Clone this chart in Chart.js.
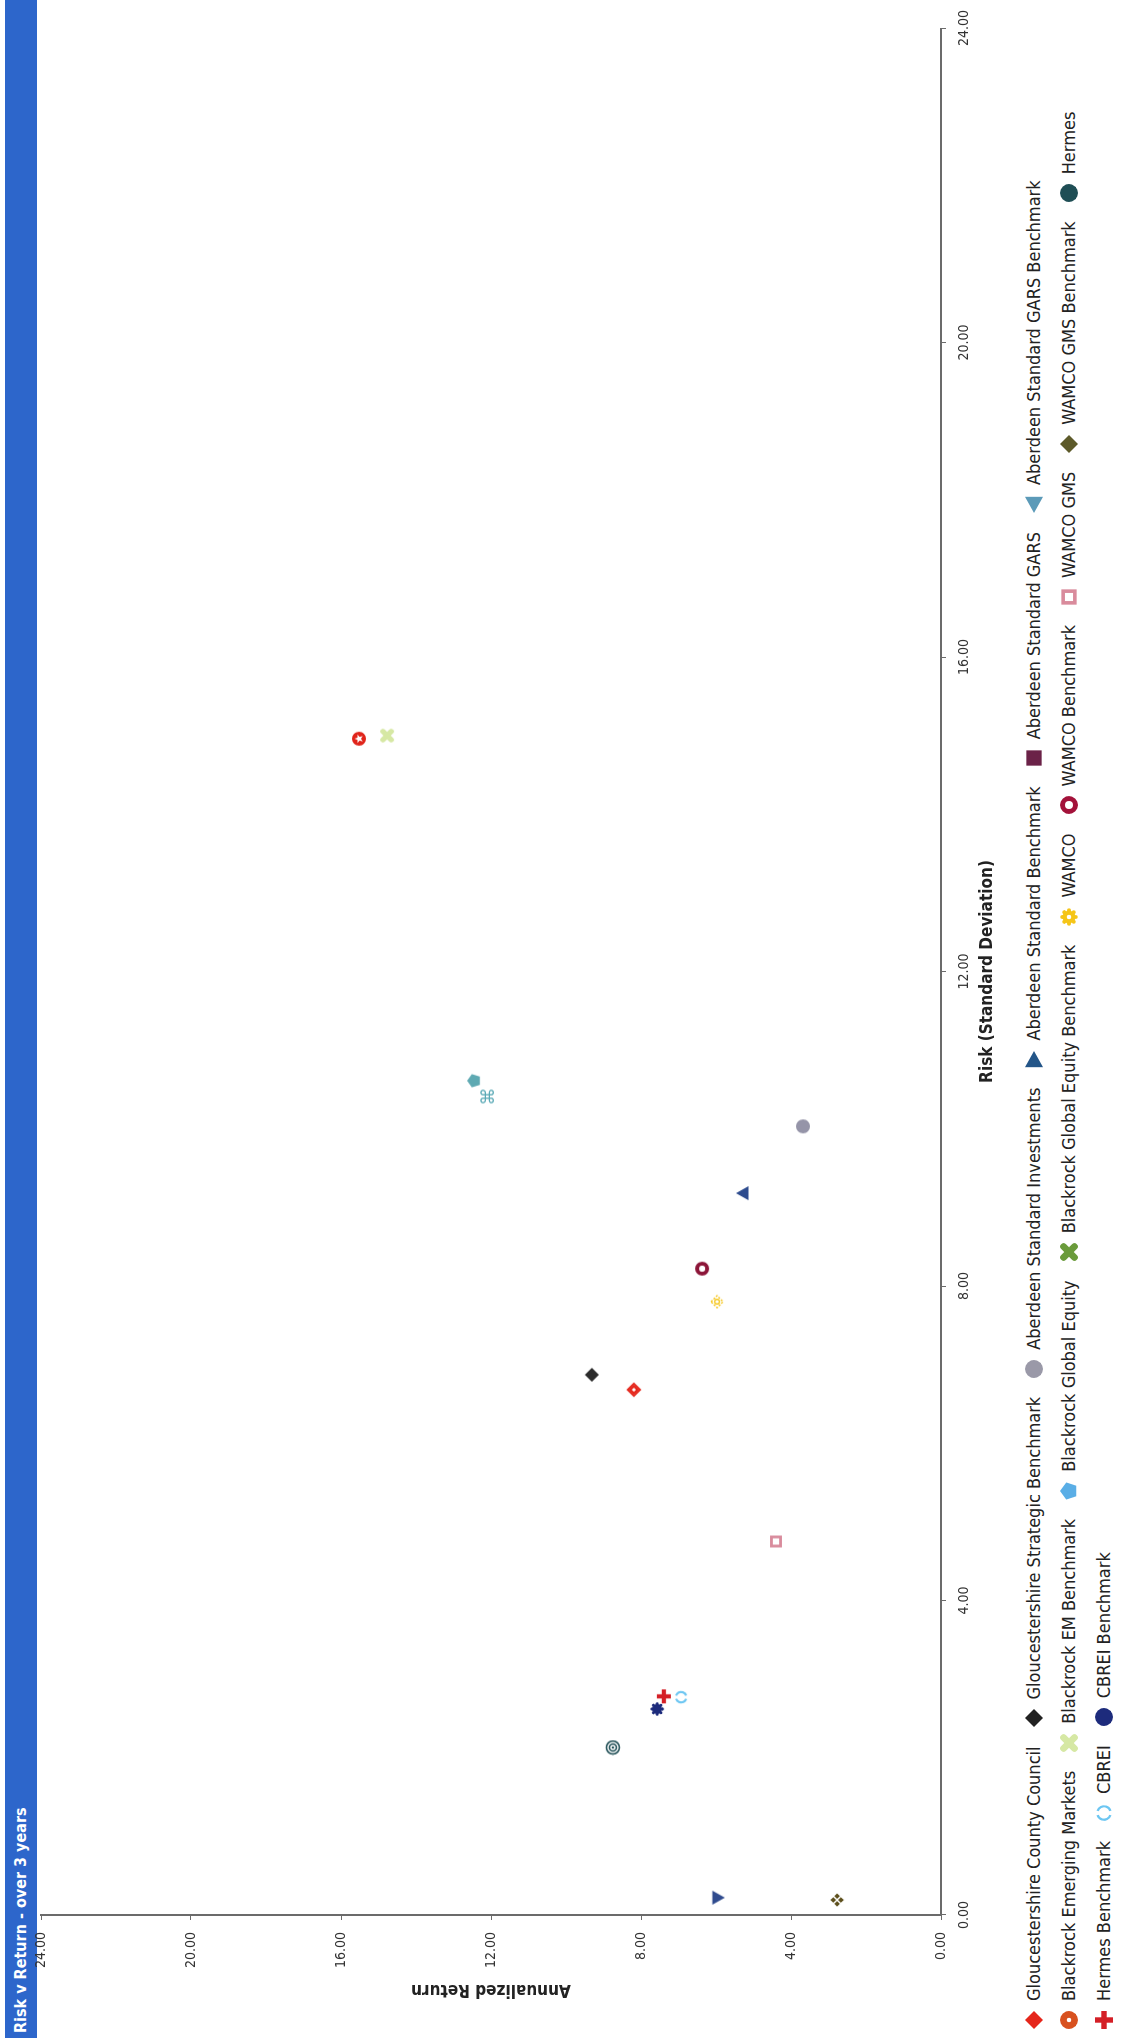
<!doctype html>
<html lang="en">
<head>
<meta charset="utf-8">
<title>Risk v Return - over 3 years</title>
<script src="https://cdn.jsdelivr.net/npm/chart.js"></script>
<style>
  body { margin: 0; width: 1123px; height: 2038px; overflow: hidden; background: #fff; position: relative; }
  /* the chart is laid out landscape and turned a quarter turn anticlockwise */
  #frame { position: absolute; left: 0; top: 0; width: 2038px; height: 1123px;
           transform-origin: 0 0; transform: translate(0, 2038px) rotate(-90deg); }
  #titlebar { position: absolute; left: 0; top: 5px; width: 2038px; height: 32px; background: #2d66cb;
              color: #fff; font: bold 16px "Liberation Sans Narrow", "DejaVu Sans Condensed", Arial, sans-serif;
              line-height: 32px; padding-left: 5px; box-sizing: border-box; }
  #chartbox { position: absolute; left: 0; top: 0; width: 2038px; height: 1000px; }
  #legend { position: absolute; left: 8px; top: 1016px; width: 2025px;
            font: 18px "Liberation Sans Narrow", "DejaVu Sans Condensed", Arial, sans-serif; color: #222; }
  .row { height: 35px; display: flex; align-items: center; white-space: nowrap; }
  .item { display: flex; align-items: center; margin-right: 18px; }
  .item img { width: 20px; height: 20px; margin-right: 9px; }
</style>
</head>
<body>
<div id="frame">
  <div id="titlebar">Risk v Return - over 3 years</div>
  <div id="chartbox"><canvas id="riskChart" width="2038" height="1000"></canvas></div>
  <div id="legend"></div>
</div>

<script>
// series names, in legend order
const names = [
  'Gloucestershire County Council', 'Gloucestershire Strategic Benchmark', 'Aberdeen Standard Investments',
  'Aberdeen Standard Benchmark', 'Aberdeen Standard GARS', 'Aberdeen Standard GARS Benchmark',
  'Blackrock Emerging Markets', 'Blackrock EM Benchmark', 'Blackrock Global Equity',
  'Blackrock Global Equity Benchmark', 'WAMCO', 'WAMCO Benchmark', 'WAMCO GMS', 'WAMCO GMS Benchmark',
  'Hermes', 'Hermes Benchmark', 'CBREI', 'CBREI Benchmark'
];
// risk (standard deviation) - x
const risk = [6.68, 6.87, 10.03, 9.18, null, 0.22, 14.96, 15.0, 10.61, 10.41, 7.80, 8.22, 4.75, 0.19, 2.13, 2.78, 2.77, 2.62];
// annualized return - y
const annReturn = [8.19, 9.31, 3.68, 5.28, null, 5.95, 15.52, 14.77, 12.45, 12.08, 5.97, 6.37, 4.40, 2.77, 8.75, 7.39, 6.93, 7.57];

const axisTicks = [0, 4, 8, 12, 16, 20, 24];

// marker looks
const pointColors = ['#e5261b', '#2b2b2b', '#9594a8', '#2d4b8e', '#6b2248', '#2f4b8e',
  '#e0241a', '#d6e8a4', '#5ea9b2', '#5aa9b6', '#f5c518', '#8c1538', '#d98b9c', '#5d4f1c',
  '#1f4e55', '#d41f26', '#6cc6f2', '#1d2b7c'];
const pointShapes = ['diamondRing', 'diamond', 'circle', 'triUp', 'square', 'triDown',
  'starCircle', 'xSoft', 'pentagon', 'cmd', 'diamondRingSoft', 'ring', 'squareRing', 'quad',
  'target', 'cross', 'cShape', 'gear'];
const legendColors = ['#e5261b', '#222222', '#9a99a8', '#235588', '#6b2248', '#5b9ab8',
  '#d8511f', '#d6e8a4', '#5aaee6', '#6a9b3b', '#f5c518', '#a3123a', '#d98b9c', '#5d5a2a',
  '#1f4e55', '#d41f26', '#6cc6f2', '#1d2b7c'];
const legendShapes = ['diamond', 'diamond', 'circle', 'triRight', 'square', 'triLeft',
  'dotCircle', 'xSoft', 'pentagon', 'clover', 'gearSoft', 'ring', 'squareRing', 'diamond',
  'circle', 'cross', 'cShape', 'circle'];

const legendRows = [6, 9, 3];

function poly(ctx, pts) {
  ctx.beginPath();
  pts.forEach((p, i) => i ? ctx.lineTo(p[0], p[1]) : ctx.moveTo(p[0], p[1]));
  ctx.closePath();
}

function makeMarker(shape, color, s) {
  const cv = document.createElement('canvas');
  cv.width = s; cv.height = s;
  const ctx = cv.getContext('2d');
  const c = s / 2, r = s / 2 - 1;
  ctx.fillStyle = color; ctx.strokeStyle = color;
  switch (shape) {
    case 'diamond':
      poly(ctx, [[c, c - r], [c + r, c], [c, c + r], [c - r, c]]); ctx.fill(); break;
    case 'diamondRing':
    case 'diamondRingSoft':
      ctx.lineWidth = shape === 'diamondRing' ? 2 : 1.4;
      if (shape === 'diamondRingSoft') ctx.setLineDash([2, 1.5]);
      poly(ctx, [[c, c - r + 1], [c + r - 1, c], [c, c + r - 1], [c - r + 1, c]]); ctx.stroke();
      ctx.setLineDash([]);
      if (shape === 'diamondRing') {
        poly(ctx, [[c, c - r / 2], [c + r / 2, c], [c, c + r / 2], [c - r / 2, c]]); ctx.stroke();
      } else {
        ctx.beginPath(); ctx.arc(c, c, r / 3, 0, Math.PI * 2); ctx.stroke();
      }
      break;
    case 'circle':
      ctx.beginPath(); ctx.arc(c, c, r, 0, Math.PI * 2); ctx.fill(); break;
    case 'ring':
      ctx.lineWidth = r * 0.55;
      ctx.beginPath(); ctx.arc(c, c, r * 0.72, 0, Math.PI * 2); ctx.stroke(); break;
    case 'target':
      ctx.lineWidth = 1.6;
      ctx.beginPath(); ctx.arc(c, c, r - 0.5, 0, Math.PI * 2); ctx.stroke();
      ctx.beginPath(); ctx.arc(c, c, r * 0.5, 0, Math.PI * 2); ctx.stroke();
      ctx.beginPath(); ctx.arc(c, c, 1.2, 0, Math.PI * 2); ctx.fill(); break;
    case 'dotCircle':
      ctx.beginPath(); ctx.arc(c, c, r, 0, Math.PI * 2); ctx.fill();
      ctx.fillStyle = '#fff'; ctx.beginPath(); ctx.arc(c, c, r * 0.25, 0, Math.PI * 2); ctx.fill(); break;
    case 'starCircle': {
      ctx.beginPath(); ctx.arc(c, c, r, 0, Math.PI * 2); ctx.fill();
      ctx.fillStyle = '#fff';
      const pts = [];
      for (let i = 0; i < 10; i++) {
        const a = -Math.PI / 2 + i * Math.PI / 5, rr = i % 2 ? r * 0.28 : r * 0.65;
        pts.push([c + rr * Math.cos(a), c + rr * Math.sin(a)]);
      }
      poly(ctx, pts); ctx.fill(); break;
    }
    case 'triUp':
      poly(ctx, [[c, c - r], [c + r, c + r * 0.8], [c - r, c + r * 0.8]]); ctx.fill(); break;
    case 'triDown':
      poly(ctx, [[c - r, c - r * 0.8], [c + r, c - r * 0.8], [c, c + r]]); ctx.fill(); break;
    case 'triRight':
      poly(ctx, [[c - r * 0.8, c - r], [c + r, c], [c - r * 0.8, c + r]]); ctx.fill(); break;
    case 'triLeft':
      poly(ctx, [[c + r * 0.8, c - r], [c - r, c], [c + r * 0.8, c + r]]); ctx.fill(); break;
    case 'square':
      ctx.fillRect(c - r * 0.85, c - r * 0.85, r * 1.7, r * 1.7); break;
    case 'squareRing':
      ctx.lineWidth = r * 0.4;
      ctx.strokeRect(c - r * 0.65, c - r * 0.65, r * 1.3, r * 1.3); break;
    case 'pentagon': {
      const pts = [];
      for (let i = 0; i < 5; i++) {
        const a = -Math.PI / 2 + i * 2 * Math.PI / 5;
        pts.push([c + r * Math.cos(a), c + r * Math.sin(a)]);
      }
      poly(ctx, pts); ctx.fill(); break;
    }
    case 'cross':
      ctx.fillRect(c - r * 0.3, c - r, r * 0.6, r * 2);
      ctx.fillRect(c - r, c - r * 0.3, r * 2, r * 0.6); break;
    case 'xSoft':
    case 'clover':
      ctx.lineCap = 'round';
      ctx.lineWidth = r * 0.75;
      ctx.beginPath();
      ctx.moveTo(c - r * 0.6, c - r * 0.6); ctx.lineTo(c + r * 0.6, c + r * 0.6);
      ctx.moveTo(c + r * 0.6, c - r * 0.6); ctx.lineTo(c - r * 0.6, c + r * 0.6);
      ctx.stroke(); break;
    case 'cmd':
      ctx.font = (s + 2) + 'px "DejaVu Sans"';
      ctx.textAlign = 'center'; ctx.textBaseline = 'middle';
      ctx.fillText('\u2318', c, c + 1); break;
    case 'quad': {
      const q = r * 0.4;
      [[0, -1], [1, 0], [0, 1], [-1, 0]].forEach(d => {
        const x = c + d[0] * r * 0.55, y = c + d[1] * r * 0.55;
        poly(ctx, [[x, y - q], [x + q, y], [x, y + q], [x - q, y]]); ctx.fill();
      });
      break;
    }
    case 'cShape':
      ctx.lineWidth = 2.2;
      ctx.beginPath(); ctx.arc(c, c, r * 0.75, Math.PI * 0.6, Math.PI * 1.4); ctx.stroke();
      ctx.beginPath(); ctx.arc(c, c, r * 0.75, -Math.PI * 0.4, Math.PI * 0.4); ctx.stroke(); break;
    case 'gear':
    case 'gearSoft':
      ctx.beginPath(); ctx.arc(c, c, r * 0.72, 0, Math.PI * 2); ctx.fill();
      for (let i = 0; i < 8; i++) {
        const a = i * Math.PI / 4;
        ctx.beginPath(); ctx.arc(c + r * 0.75 * Math.cos(a), c + r * 0.75 * Math.sin(a), r * 0.22, 0, Math.PI * 2); ctx.fill();
      }
      if (shape === 'gearSoft') { ctx.fillStyle = '#fff'; ctx.beginPath(); ctx.arc(c, c, r * 0.25, 0, Math.PI * 2); ctx.fill(); }
      break;
  }
  return cv;
}

// legend (html, wrapped into the same rows as the original)
const legendEl = document.getElementById('legend');
let idx = 0;
legendRows.forEach(n => {
  const row = document.createElement('div');
  row.className = 'row';
  for (let k = 0; k < n; k++, idx++) {
    const item = document.createElement('span');
    item.className = 'item';
    const img = document.createElement('img');
    img.src = makeMarker(legendShapes[idx], legendColors[idx], 20).toDataURL();
    const txt = document.createElement('span');
    txt.textContent = names[idx];
    item.appendChild(img); item.appendChild(txt);
    row.appendChild(item);
  }
  legendEl.appendChild(row);
});

const datasets = names.map((name, i) => ({
  label: name,
  data: risk[i] === null ? [] : [{ x: risk[i], y: annReturn[i] }],
  pointStyle: makeMarker(pointShapes[i], pointColors[i], 16),
  backgroundColor: pointColors[i],
  borderColor: pointColors[i]
}));

const fontFamily = '"Liberation Sans Narrow", "DejaVu Sans Condensed", Arial, sans-serif';
const axisFont = { family: fontFamily, size: 14 };
const titleFont = { family: fontFamily, size: 17, weight: 'bold' };

new Chart(document.getElementById('riskChart'), {
  type: 'scatter',
  data: { datasets: datasets },
  options: {
    responsive: false,
    animation: false,
    layout: { padding: { left: 0, right: 20, top: 41, bottom: 0 } },
    plugins: { legend: { display: false }, tooltip: { enabled: false } },
    scales: {
      x: {
        type: 'linear', min: 0, max: 24,
        afterBuildTicks: axis => { axis.ticks = axisTicks.map(v => ({ value: v })); },
        afterFit: axis => { axis.height = 59; },
        border: { display: true, color: '#6b6b6b', width: 2 },
        grid: { drawOnChartArea: false, drawTicks: true, tickLength: 5, color: '#6b6b6b' },
        ticks: { color: '#333', font: axisFont, padding: 10, maxRotation: 0, callback: v => v.toFixed(2) },
        title: { display: true, text: 'Risk (Standard Deviation)', color: '#222', font: titleFont, padding: { top: 0, bottom: 2 } }
      },
      y: {
        type: 'linear', min: 0, max: 24,
        afterBuildTicks: axis => { axis.ticks = axisTicks.map(v => ({ value: v })); },
        afterFit: axis => { axis.width = 123; },
        border: { display: true, color: '#6b6b6b', width: 2 },
        grid: { drawOnChartArea: false, drawTicks: true, tickLength: 5, color: '#6b6b6b' },
        ticks: { color: '#333', font: axisFont, padding: 12, callback: v => v.toFixed(2) },
        title: { display: true, text: 'Annualized Return', color: '#222', font: titleFont, padding: { top: 38, bottom: 0 } }
      }
    }
  }
});
</script>
</body>
</html>
